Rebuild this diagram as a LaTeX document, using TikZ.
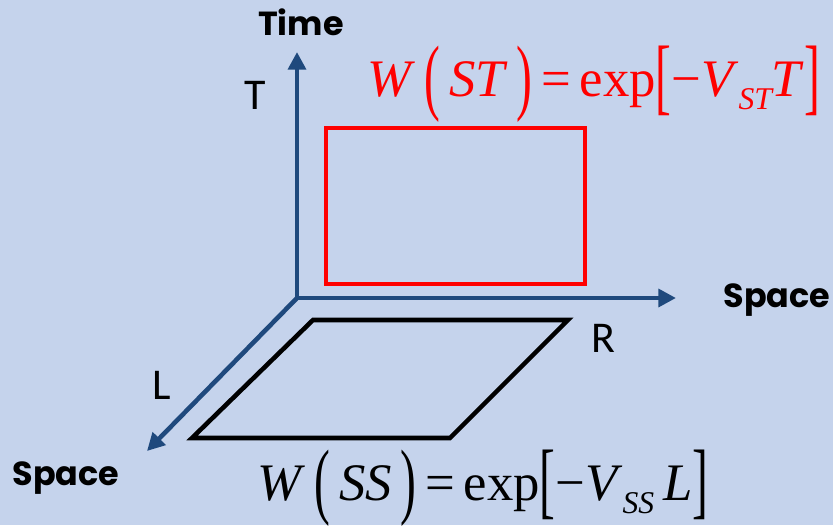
\documentclass[tikz,border=0pt]{standalone}
\usepackage{fontspec}
\usepackage{graphicx}
\usepackage{tikz}
\usetikzlibrary{arrows.meta, positioning, calc}
\setmainfont{Liberation Serif}
\newfontfamily\labelfont{Carlito}
\newfontfamily\axisfont{Poppins}
\definecolor{bgblue}{RGB}{197,211,236}
\definecolor{axisblue}{RGB}{31,73,125}
\definecolor{loopred}{RGB}{255,0,0}
% tall delimiter and subscript for the loop formulas
\newcommand{\talldelim}[1]{\raisebox{-0.32ex}{\scalebox{0.9}[1.6]{#1}}}
\newcommand{\loopsub}[1]{\raisebox{-0.55ex}{\fontsize{18}{18}\selectfont\itshape #1}}

\begin{document}
\begin{tikzpicture}[x=0.02cm, y=-0.02cm,
    axis/.style={line width=2.6pt, axisblue, -{Triangle[length=10pt, width=10pt]}},
    axislabel/.style={font=\axisfont\bfseries\fontsize{19}{19}\selectfont},
    sidelabel/.style={font=\labelfont\fontsize{25}{25}\selectfont},
    formula/.style={font=\fontsize{30}{30}\selectfont}]
% Background
\fill[bgblue] (0,0) rectangle (833,525);
\useasboundingbox (0,0) rectangle (833,525);

% Axes
\coordinate (o) at (297,298);
\coordinate (tend) at (297,52);
\coordinate (rend) at (676,298);
\coordinate (lend) at (147,451);
\draw[axis] (o) -- (tend);
\draw[axis] (o) -- (rend);
\draw[axis] (o) -- (lend);

% Space-time loop
\draw[loopred, line width=2.3pt] (326,128) rectangle (585,284);

% Space-space loop
\draw[black, line width=2.6pt, line join=miter]
  (313,320) -- (568,320) -- (450,438) -- (192,438) -- cycle;

% Labels
\node[axislabel] (time) at (301,22) {Time};
\node[axislabel] (space1) at (777,300) {Space};
\node[axislabel] (space2) at (66,478) {Space};
\node[sidelabel] (t) at (255,95) {T};
\node[sidelabel] (r) at (603,338) {R};
\node[sidelabel] (l) at (162,385) {L};

% Formulas
\node[formula, text=loopred] (wst) at (594,84)
  {\textit{W}\,\talldelim{(}\,\textit{ST}\,\talldelim{)}\,=\,exp\talldelim{[}−\textit{V}\loopsub{ST}\textit{T}\talldelim{]}};
\node[formula] (wss) at (483,488)
  {\textit{W}\,\talldelim{(}\,\textit{SS}\,\talldelim{)}\,=\,exp\talldelim{[}−\textit{V}\loopsub{SS}\,\textit{L}\talldelim{]}};
\end{tikzpicture}
\end{document}
